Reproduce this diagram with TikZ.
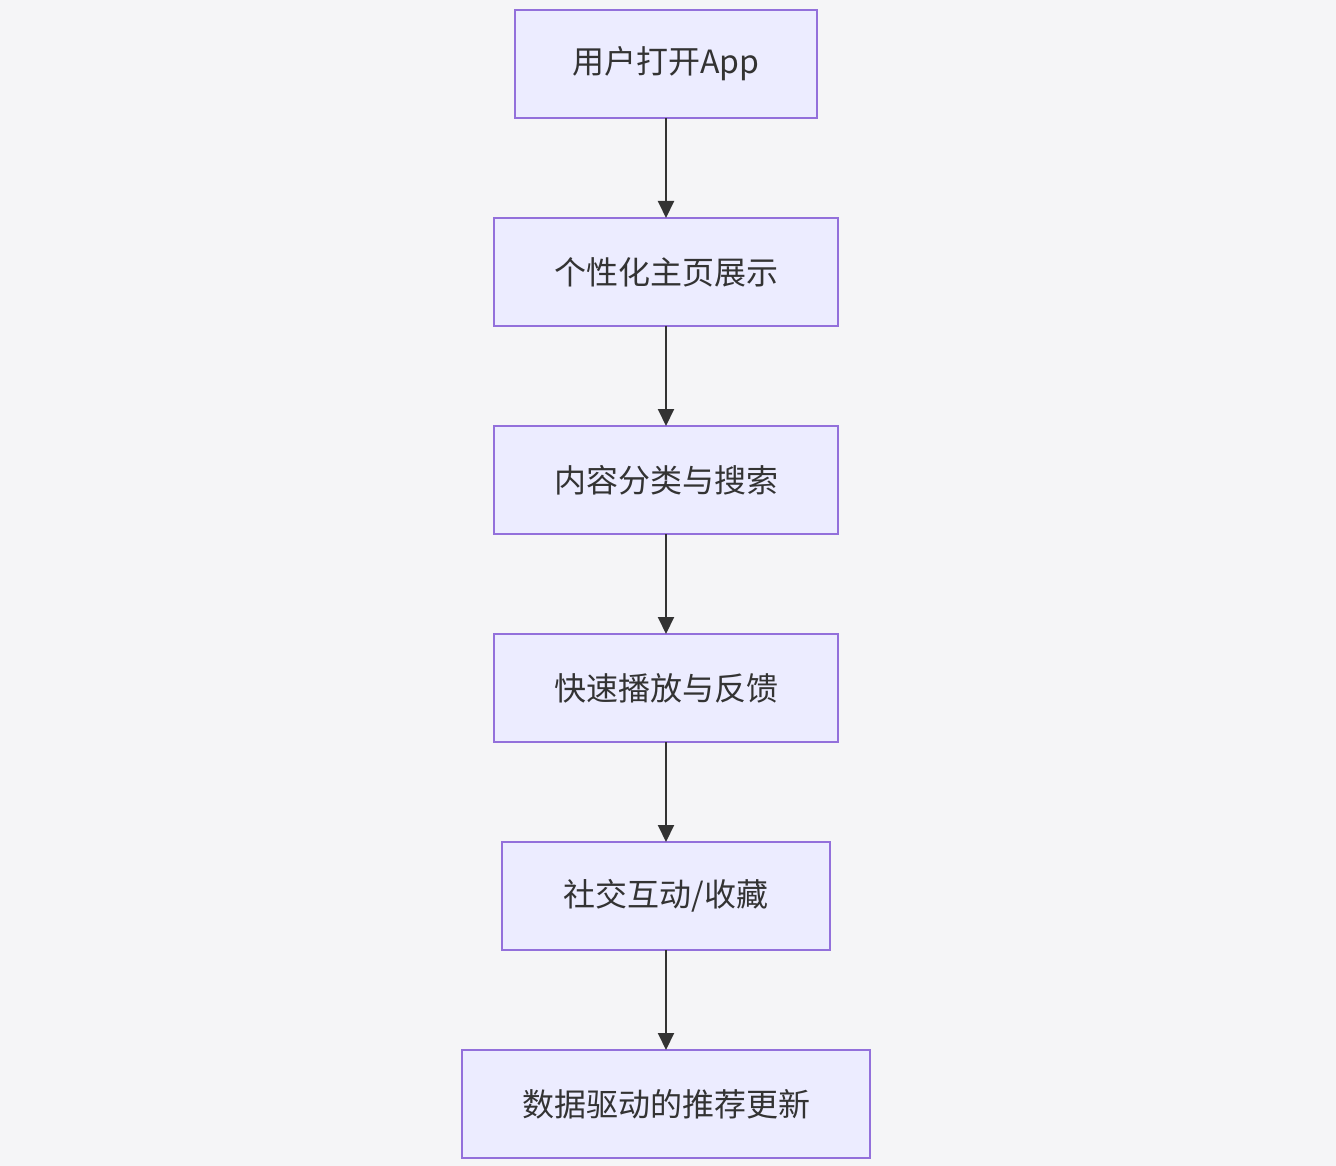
\documentclass[tikz,border=0pt]{standalone}
\usepackage{fontspec}
\setmainfont{Noto Sans CJK SC}
\usetikzlibrary{arrows.meta}
\definecolor{bgc}{HTML}{F5F5F7}
\definecolor{boxfill}{HTML}{ECECFF}
\definecolor{boxdraw}{HTML}{9370DB}
\definecolor{linec}{HTML}{333333}
\begin{document}
\begin{tikzpicture}[x=1pt,y=-1pt,
  flowbox/.style={draw=boxdraw,fill=boxfill,line width=2pt,minimum height=108pt,
    text=linec,font=\fontsize{32}{38}\selectfont,inner sep=0pt,outer sep=0pt},
  flowarrow/.style={draw=linec,line width=2pt,-{Triangle[width=16pt,length=17pt]}}]
\fill[bgc] (0,0) rectangle (1336,1166);
\useasboundingbox (0,0) rectangle (1336,1166);
\node[flowbox,minimum width=302pt] (n1) at (666,64) {用户打开App};
\node[flowbox,minimum width=344pt] (n2) at (666,272) {个性化主页展示};
\node[flowbox,minimum width=344pt] (n3) at (666,480) {内容分类与搜索};
\node[flowbox,minimum width=344pt] (n4) at (666,688) {快速播放与反馈};
\node[flowbox,minimum width=328pt] (n5) at (666,896) {社交互动/收藏};
\node[flowbox,minimum width=408pt] (n6) at (666,1104) {数据驱动的推荐更新};
\draw[flowarrow] (n1) -- (n2);
\draw[flowarrow] (n2) -- (n3);
\draw[flowarrow] (n3) -- (n4);
\draw[flowarrow] (n4) -- (n5);
\draw[flowarrow] (n5) -- (n6);
\end{tikzpicture}
\end{document}
